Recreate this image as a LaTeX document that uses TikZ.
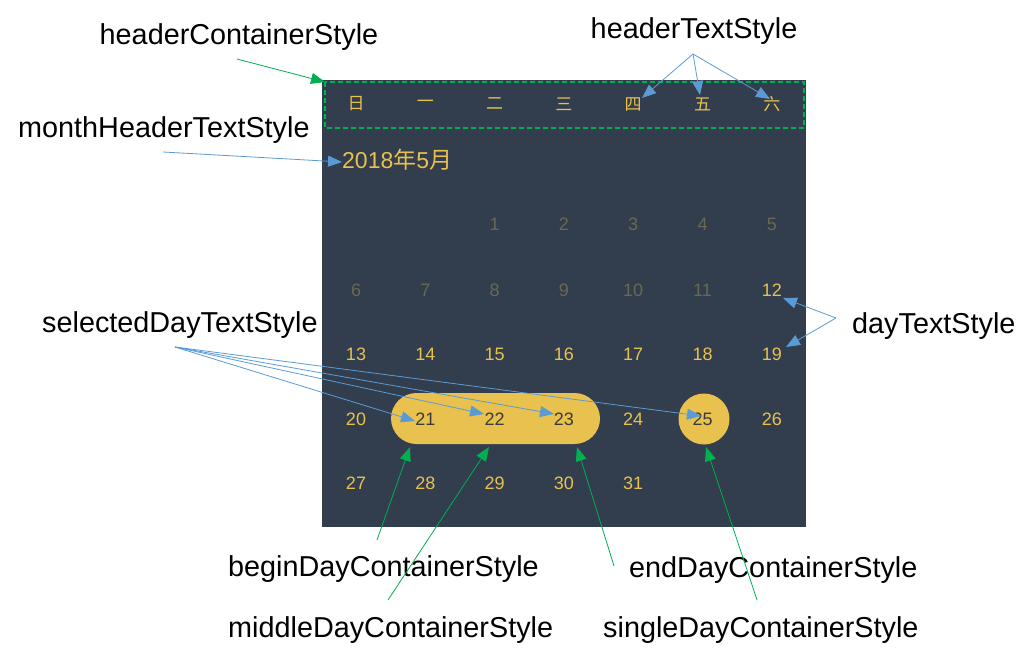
\documentclass[tikz,border=0pt]{standalone}
\usepackage{fontspec}
\setmainfont{Liberation Sans}
\newfontfamily\cjk{Noto Sans CJK SC}
\usetikzlibrary{arrows.meta}
\definecolor{bg}{HTML}{323D4D}
\definecolor{gold}{HTML}{E8C14E}
\definecolor{dim}{HTML}{6B6852}
\definecolor{seltext}{HTML}{3B3B3B}
\definecolor{gline}{HTML}{00B050}
\definecolor{bline}{HTML}{5B9BD5}
\begin{document}
\begin{tikzpicture}[x=1pt,y=-1pt,
  lbl/.style={font=\fontsize{28.8}{32}\selectfont, inner sep=0pt, text=black},
  day/.style={font=\fontsize{18}{21}\selectfont, text=gold, inner sep=1pt},
  dimday/.style={day, text=dim},
  selday/.style={day, text=seltext},
  hdr/.style={font=\cjk\fontsize{17}{20}\selectfont, text=gold, inner sep=1pt},
  barrow/.style={draw=bline, line width=0.8pt, -{Triangle[length=14pt,width=11pt]}},
  garrow/.style={draw=gline, line width=0.8pt, -{Triangle[length=14pt,width=11pt]}}]
\useasboundingbox (0,0) rectangle (1035,661);
\fill[white] (0,0) rectangle (1035,661);
% calendar background
\fill[bg] (322,80) rectangle (806,527);
\draw[gline, line width=1.6pt, dash pattern=on 5pt off 3pt] (325,82) rectangle (804,128);
% pill and circle
\fill[gold, rounded corners=25.5pt] (391,393) rectangle (600,444);
\fill[gold] (704,419) circle (25.5);
% header
\foreach \c [count=\i from 0] in {日,一,二,三,四,五,六}
  \node[hdr] (h\i) at (356+69.3*\i,104) {\c};
\node[font=\fontsize{23}{26}\selectfont, text=gold, inner sep=0pt, anchor=west] (month) at (342,160) {2018{\cjk 年}5{\cjk 月}};
% days
\foreach \d [count=\i from 2] in {1,2,3,4,5}
  \node[dimday] (d\d) at (356+69.3*\i,224) {\d};
\foreach \d [count=\i from 0] in {6,7,8,9,10,11}
  \node[dimday] (d\d) at (356+69.3*\i,290) {\d};
\node[day] (d12) at (356+69.3*6,290) {12};
\foreach \d [count=\i from 0] in {13,14,15,16,17,18,19}
  \node[day] (d\d) at (356+69.3*\i,354) {\d};
\node[day] (d20) at (356,419) {20};
\node[selday] (d21) at (356+69.3*1,419) {21};
\node[selday] (d22) at (356+69.3*2,419) {22};
\node[selday] (d23) at (356+69.3*3,419) {23};
\node[day] (d24) at (356+69.3*4,419) {24};
\node[selday] (d25) at (356+69.3*5,419) {25};
\node[day] (d26) at (356+69.3*6,419) {26};
\foreach \d [count=\i from 0] in {27,28,29,30,31}
  \node[day] (d\d) at (356+69.3*\i,483) {\d};
% labels
\node[lbl] (lhc) at (239,37) {headerContainerStyle};
\node[lbl] (lht) at (694,31) {headerTextStyle};
\node[lbl, anchor=west] (lmh) at (18,130) {monthHeaderTextStyle};
\node[lbl, anchor=west] (lsd) at (42,325) {selectedDayTextStyle};
\node[lbl, anchor=west] (ldt) at (852,326) {dayTextStyle};
\node[lbl, anchor=west] (lbd) at (228,569) {beginDayContainerStyle};
\node[lbl, anchor=west] (led) at (629,570) {endDayContainerStyle};
\node[lbl, anchor=west] (lmd) at (228,630) {middleDayContainerStyle};
\node[lbl, anchor=west] (lsg) at (603,630) {singleDayContainerStyle};
% connector points
\coordinate (shc) at (237,59);
\coordinate (tboxc) at (325,82);
\coordinate (sht) at (693,54);
\coordinate (t4) at (642,98);
\coordinate (t5) at (700,95);
\coordinate (t6) at (770,99);
\coordinate (smh) at (163,152);
\coordinate (tmh) at (342,162);
\coordinate (ssd) at (175,347);
\coordinate (t21) at (415,421);
\coordinate (t22) at (484,414);
\coordinate (t23) at (554,414);
\coordinate (t25) at (701,416);
\coordinate (sdt) at (836,318);
\coordinate (t12) at (783,298);
\coordinate (t19) at (786,347);
\coordinate (sbd) at (377,540);
\coordinate (tbd) at (410,447);
\coordinate (smd) at (388,600);
\coordinate (tmd) at (489,447);
\coordinate (sed) at (614,566);
\coordinate (ted) at (577,447);
\coordinate (ssg) at (757,600);
\coordinate (tsg) at (706,447);
% connectors
\draw[garrow] (shc) -- (tboxc);
\draw[barrow] (sht) -- (t4);
\draw[barrow] (sht) -- (t5);
\draw[barrow] (sht) -- (t6);
\draw[barrow] (smh) -- (tmh);
\draw[barrow] (ssd) -- (t21);
\draw[barrow] (ssd) -- (t22);
\draw[barrow] (ssd) -- (t23);
\draw[barrow] (ssd) -- (t25);
\draw[barrow] (sdt) -- (t12);
\draw[barrow] (sdt) -- (t19);
\draw[garrow] (sbd) -- (tbd);
\draw[garrow] (smd) -- (tmd);
\draw[garrow] (sed) -- (ted);
\draw[garrow] (ssg) -- (tsg);
\end{tikzpicture}
\end{document}
